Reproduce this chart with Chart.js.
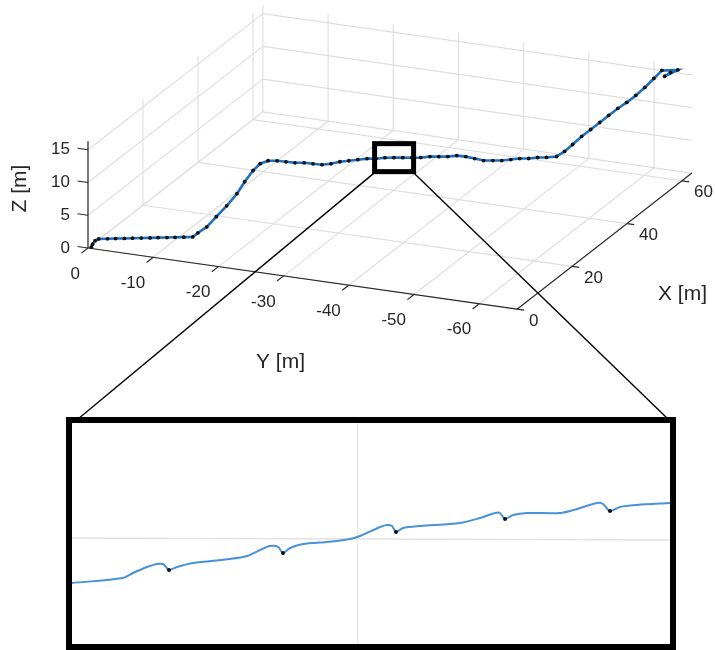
<!DOCTYPE html>
<html><head><meta charset="utf-8">
<script src="https://cdn.jsdelivr.net/npm/chart.js@4.4.1/dist/chart.umd.min.js"></script>
<style>
html,body{margin:0;padding:0;background:#fff;}
#wrap{position:relative;width:715px;height:650px;overflow:hidden;}
#main{position:absolute;left:0;top:0;}
#insetBox{position:absolute;left:66px;top:417px;width:598px;height:221px;border:6px solid #000;background:transparent;}
#inset{display:block;}
</style></head><body>
<div id="wrap">
<canvas id="main" width="715" height="650"></canvas>
<div id="insetBox"><canvas id="inset" width="598" height="221"></canvas></div>
</div>
<script>
// ---------- data ----------
const xTicks = [0, 20, 40, 60];
const yTicks = [0, -10, -20, -30, -40, -50, -60];
const zTicks = [0, 5, 10, 15];
const xLim = [0, 63.6];
const yLim = [-65.8, 0];
const zLim = [0, 16.3];

const pathX = [0.5,0.2,0.2,
  0.3,0.85,1.4,1.95,2.5,3.05,3.6,4.15,4.7,5.25,5.8,6.4,
  6.95,7.9,9.0,10.1,11.2,12.1,13.0,13.75,14.6,
  15.15,15.70,16.26,16.83,17.38,17.93,18.48,19.03,19.58,20.14,20.71,21.26,21.81,22.36,22.91,23.46,
  24.02,24.59,25.14,25.69,26.24,26.79,27.34,27.90,28.47,29.02,29.57,30.12,30.67,31.23,31.78,32.40,
  34.73,37.05,39.68,42.31,44.95,47.55,50.18,52.81,55.41,58.04,60.67,63.0,
  63.2,62.8,63.1];
const pathY = [-0.30,-0.61,-1.01,
  -1.52,-2.63,-3.64,-4.76,-5.77,-6.88,-8.0,-9.01,-10.12,-11.14,-12.25,-13.36,
  -13.92,-14.88,-15.89,-17.01,-18.12,-18.93,-19.84,-20.60,-21.46,
  -22.61,-23.74,-24.88,-26.06,-27.19,-28.33,-29.47,-30.61,-31.75,-32.89,-34.06,-35.21,-36.34,-37.49,-38.62,-39.76,
  -40.90,-42.07,-43.21,-44.35,-45.49,-46.64,-47.77,-48.91,-50.09,-51.22,-52.37,-53.50,-54.64,-55.78,-56.92,-58.21,
  -58.45,-58.70,-58.98,-59.26,-59.53,-59.81,-60.09,-60.36,-60.65,-60.92,-61.20,-61.45,
  -63.8,-61.95,-62.76];
const pathZ = [0,0.6,1.2,
  1.5,1.5,1.5,1.5,1.5,1.5,1.5,1.5,1.5,1.5,1.5,1.5,
  2.0,2.75,4.1,5.55,7.2,8.85,10.4,11.3,11.6,
  11.57,11.40,11.23,11.21,11.04,10.88,11.01,11.30,11.43,11.57,11.71,11.69,11.82,11.81,11.79,11.77,
  11.76,11.89,11.87,11.86,11.99,11.82,11.50,11.18,11.16,11.14,11.28,11.41,11.40,11.53,11.52,11.65,
  11.69,12.03,12.44,12.68,12.93,13.19,13.44,13.54,13.80,14.20,14.75,15.25,
  15.6,14.5,15.1];

const zoomCenter = [22.4, -37.5, 11.8];

// magnified detail (inset): along-track position (%) and height (arb. units)
const insetS = [0,8.53,10.2,12.54,14.21,15.22,15.72,16.22,17.56,20.23,26.42,29.26,31.44,33.11,34.45,35.28,36.45,38.63,42.64,46.49,48.16,
  51.51,52.68,53.51,54.18,55.35,58.19,64.88,68.23,70.74,71.57,72.41,73.75,76.09,81.61,84.45,87.79,88.80,89.97,91.64,94.48,100];
const insetH = [11.04,11.95,12.85,13.94,14.48,14.48,13.94,13.39,13.94,14.66,15.39,15.93,17.01,17.74,17.56,16.47,17.38,18.10,18.46,19.01,19.55,
  21.18,21.54,21.36,20.27,21.0,21.36,21.90,22.81,23.71,23.71,22.63,23.35,23.71,23.71,24.44,25.52,25.34,24.07,24.80,25.16,25.52];
const insetDotS = [16.22, 35.28, 54.18, 72.41, 89.97];
const insetDotH = [13.39, 16.47, 20.27, 22.63, 24.07];
const insetGridS = [47.8];
const insetGridH = [19.19, 18.82];

// ---------- view / projection ----------
const VIEW = {ox: 88, oy: 248, ex: [2.75, -2.14], ey: [-6.52, -0.93], ez: [0, -6.55]};
function proj(X, Y, Z) {
  return {x: VIEW.ox + VIEW.ex[0]*X + VIEW.ey[0]*Y + VIEW.ez[0]*Z,
          y: VIEW.oy + VIEW.ex[1]*X + VIEW.ey[1]*Y + VIEW.ez[1]*Z};
}

const GRID = '#dedede', AXIS = '#2b2b2b', TXT = '#262626';
const FONT_T = '17px "Liberation Sans", Arial, sans-serif';
const FONT_L = '21px "Liberation Sans", Arial, sans-serif';

const datasets = [];
function seg(a, b, color, w, order) {
  datasets.push({data: [proj(...a), proj(...b)], showLine: true, borderColor: color, borderWidth: w,
    pointRadius: 0, order: order, fill: false});
}
// floor grid (Z = 0)
xTicks.forEach(x => seg([x, yLim[0], 0], [x, yLim[1], 0], GRID, 1.1, 20));
yTicks.forEach(y => seg([xLim[0], y, 0], [xLim[1], y, 0], GRID, 1.1, 20));
// back wall (X = max)
yTicks.forEach(y => seg([xLim[1], y, zLim[0]], [xLim[1], y, zLim[1]], GRID, 1.1, 20));
zTicks.forEach(z => seg([xLim[1], yLim[0], z], [xLim[1], yLim[1], z], GRID, 1.1, 20));
// side wall (Y = 0)
xTicks.forEach(x => seg([x, yLim[1], zLim[0]], [x, yLim[1], zLim[1]], GRID, 1.1, 20));
zTicks.forEach(z => seg([xLim[0], yLim[1], z], [xLim[1], yLim[1], z], GRID, 1.1, 20));
// axes
seg([xLim[0], yLim[1], 0], [xLim[0], yLim[0], 0], AXIS, 1.2, 5);
seg([xLim[0], yLim[0], 0], [xLim[1], yLim[0], 0], AXIS, 1.2, 5);
seg([xLim[0], yLim[1], zLim[0]], [xLim[0], yLim[1], zLim[1]], AXIS, 1.2, 5);
// trajectory
datasets.push({data: pathX.map((x, i) => proj(x, pathY[i], pathZ[i])), showLine: true,
  borderColor: '#1f6fbf', borderWidth: 2.6, pointRadius: 1.9, pointBackgroundColor: '#111',
  pointBorderWidth: 0, order: 1, tension: 0});

const overlay = {
  id: 'overlay',
  afterDatasetsDraw(chart) {
    const ctx = chart.ctx, sx = chart.scales.x, sy = chart.scales.y;
    const P = (X, Y, Z) => { const p = proj(X, Y, Z); return [sx.getPixelForValue(p.x), sy.getPixelForValue(p.y)]; };
    ctx.save();
    ctx.strokeStyle = AXIS; ctx.lineWidth = 1.2;
    const line = (a, b) => { ctx.beginPath(); ctx.moveTo(a[0], a[1]); ctx.lineTo(b[0], b[1]); ctx.stroke(); };
    // tick marks
    zTicks.forEach(z => line(P(0, 0, z), P(0, 1.6, z)));
    yTicks.forEach(y => line(P(0, y, 0), P(-2.4, y, 0)));
    xTicks.forEach(x => line(P(x, yLim[0], 0), P(x, yLim[0] - 1.1, 0)));
    // tick labels
    ctx.fillStyle = TXT; ctx.font = FONT_T; ctx.textBaseline = 'middle';
    ctx.textAlign = 'right';
    zTicks.forEach(z => { const p = P(0, 0, z); ctx.fillText(String(z), p[0] - 18, p[1]); });
    yTicks.forEach(y => { const p = P(0, y, 0); ctx.fillText(String(y), p[0] - 8, p[1] + 26); });
    ctx.textAlign = 'left';
    xTicks.forEach(x => { const p = P(x, yLim[0], 0); ctx.fillText(String(x), p[0] + 12, p[1] + 12); });
    // axis titles
    ctx.font = FONT_L; ctx.textAlign = 'center';
    let p = P(0, (yLim[0] + yLim[1]) / 2, 0); ctx.fillText('Y [m]', p[0] - 22, p[1] + 84);
    p = P((xLim[0] + xLim[1]) / 2, yLim[0], 0); ctx.fillText('X [m]', p[0] + 78, p[1] + 53);
    p = P(0, 0, (zLim[0] + zLim[1]) / 2);
    ctx.save(); ctx.translate(p[0] - 68, p[1] - 6); ctx.rotate(-Math.PI / 2); ctx.fillText('Z [m]', 0, 0); ctx.restore();
    // zoom rectangle + connectors
    const c = P(...zoomCenter);
    const hw = 19.5, hh = 14;
    ctx.strokeStyle = '#000'; ctx.lineWidth = 1.4;
    line([c[0] - hw, c[1] + hh + 1], [78, 419]);
    line([c[0] + hw, c[1] + hh + 1], [668, 419]);
    ctx.lineWidth = 5;
    ctx.strokeRect(c[0] - hw, c[1] - hh, 2 * hw, 2 * hh);
    ctx.restore();
  }
};

new Chart(document.getElementById('main'), {
  type: 'scatter',
  data: {datasets: datasets},
  options: {
    responsive: false, animation: false, events: [],
    layout: {padding: 0, autoPadding: false},
    plugins: {legend: {display: false}, tooltip: {enabled: false}},
    scales: {
      x: {type: 'linear', min: 0, max: 715, display: false},
      y: {type: 'linear', min: 0, max: 650, reverse: true, display: false}
    }
  },
  plugins: [overlay]
});

new Chart(document.getElementById('inset'), {
  type: 'scatter',
  data: {datasets: [
    {data: insetS.map((s, i) => ({x: s, y: insetH[i]})), showLine: true, borderColor: '#4a92d8',
     borderWidth: 2, pointRadius: 0, order: 2, tension: 0.3},
    {data: insetDotS.map((s, i) => ({x: s, y: insetDotH[i]})), pointRadius: 2, pointBackgroundColor: '#111',
     pointBorderWidth: 0, order: 1},
    {data: [{x: insetGridS[0], y: 0}, {x: insetGridS[0], y: 40}], showLine: true, borderColor: '#e2e2e2',
     borderWidth: 1, pointRadius: 0, order: 5},
    {data: [{x: 0, y: insetGridH[0]}, {x: 100, y: insetGridH[1]}], showLine: true, borderColor: '#e2e2e2',
     borderWidth: 1.5, pointRadius: 0, order: 5}
  ]},
  options: {
    responsive: false, animation: false, events: [],
    layout: {padding: 0, autoPadding: false},
    plugins: {legend: {display: false}, tooltip: {enabled: false}},
    scales: {
      x: {type: 'linear', min: 0, max: 100, display: false},
      y: {type: 'linear', min: 0, max: 40, display: false}
    }
  }
});
</script>
</body></html>
